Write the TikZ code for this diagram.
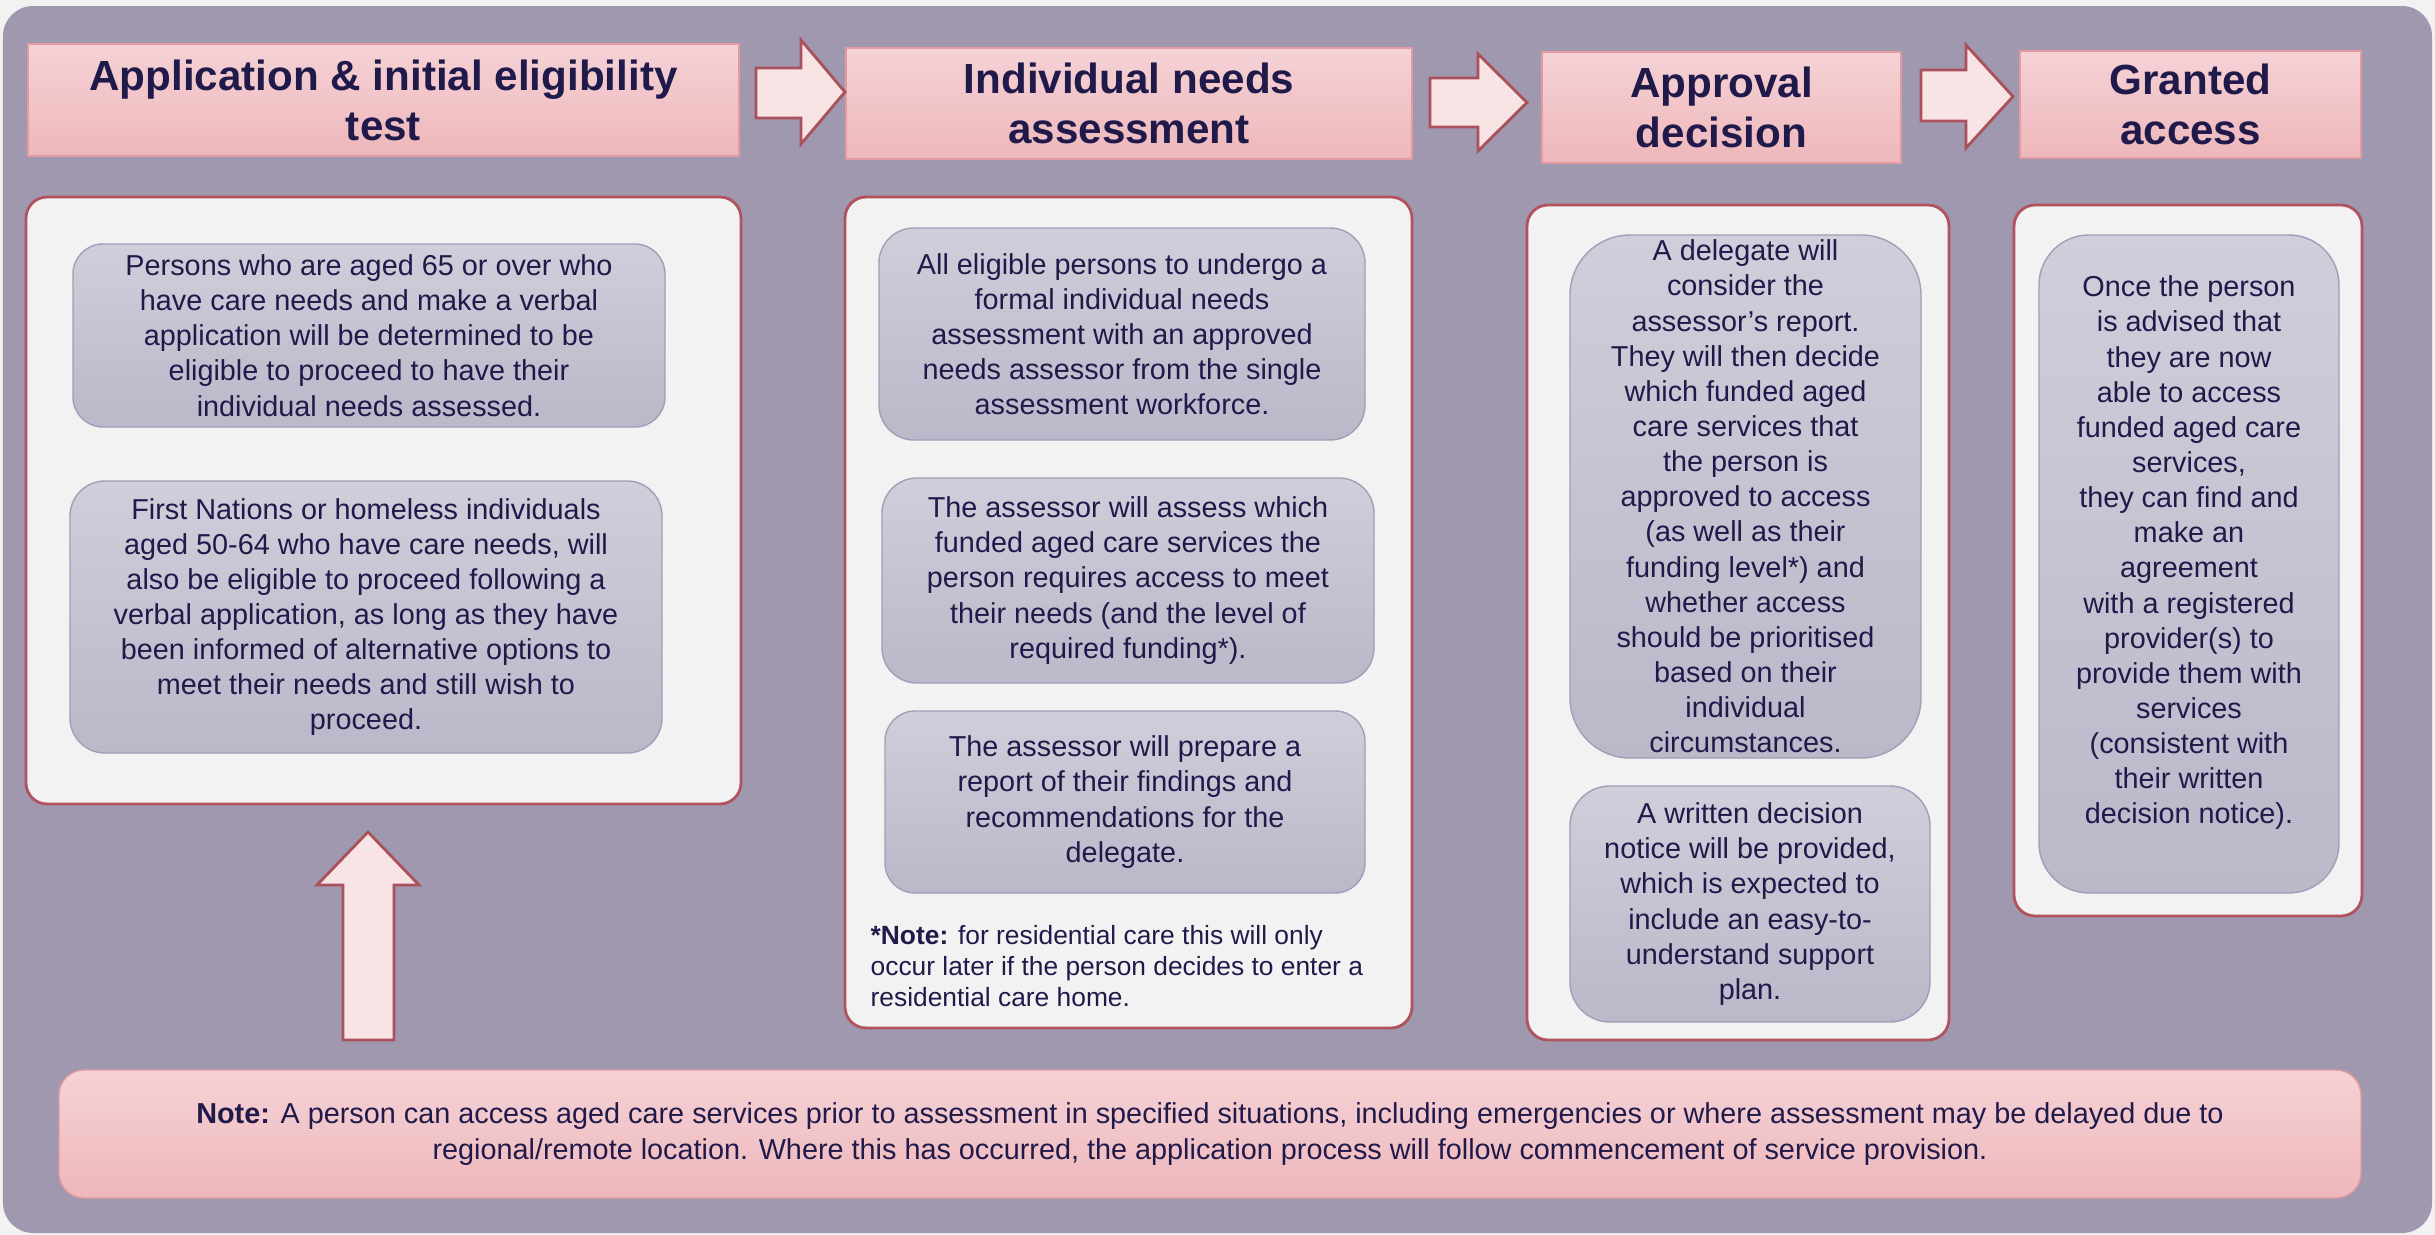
\documentclass[tikz,border=0pt]{standalone}
\usepackage{fontspec}
\setmainfont{Liberation Sans}
\usepackage{tikz}
\usetikzlibrary{arrows}

\definecolor{outside}{HTML}{F2F2F2}
\definecolor{bgpurple}{HTML}{A098AE}
\definecolor{hdrtop}{HTML}{F5D2D6}
\definecolor{hdrbot}{HTML}{EEB7BB}
\definecolor{hdrline}{HTML}{E39AA1}
\definecolor{panelfill}{HTML}{F2F2F2}
\definecolor{panelline}{HTML}{B0535E}
\definecolor{innertop}{HTML}{D1CDDA}
\definecolor{innerbot}{HTML}{BCB7C9}
\definecolor{innerline}{HTML}{A39DB7}
\definecolor{arrowfill}{HTML}{F8E3E5}
\definecolor{arrowline}{HTML}{A9525C}
\definecolor{textc}{HTML}{201A4B}

\begin{document}
\begin{tikzpicture}

	\tikzstyle header box=[draw=hdrline, top color=hdrtop, bottom color=hdrbot, inner sep=0pt, align=center, text=textc, font=\fontsize{12}{14.2}\selectfont\bfseries];
	\tikzstyle panel box=[draw=panelline, fill=panelfill, rounded corners=6pt, thick, inner sep=0pt];
	\tikzstyle inner box=[draw=innerline, top color=innertop, bottom color=innerbot, inner sep=0pt, align=center, text=textc, font=\fontsize{8.2}{10}\selectfont];
	\tikzstyle block arrows=[draw=arrowline, fill=arrowfill, thick];

	% background
	\fill[outside] (0,0) rectangle (24.35,-12.35);
	\fill[bgpurple, rounded corners=0.3cm] (0.03,-0.06) rectangle (24.32,-12.33);

	% stage headers
	\node[header box, minimum width=7.11cm, minimum height=1.12cm] (apply) at (3.835,-1.0) {Application \& initial eligibility\\test};
	\node[header box, minimum width=5.66cm, minimum height=1.11cm] (assess) at (11.29,-1.035) {Individual needs\\assessment};
	\node[header box, minimum width=3.59cm, minimum height=1.11cm] (approve) at (17.215,-1.075) {Approval\\decision};
	\node[header box, minimum width=3.41cm, minimum height=1.07cm] (granted) at (21.905,-1.045) {Granted\\access};

	\foreach \xa/\xb/\xc/\ya/\yb/\yc/\yd in {7.56/8.01/8.45/0.40/0.68/1.18/1.44,14.30/14.78/15.27/0.54/0.78/1.27/1.51,19.21/19.66/20.13/0.45/0.70/1.21/1.48}
		\draw[block arrows] (\xa,-\yb) -- (\xb,-\yb) -- (\xb,-\ya) -- (\xc,{-(\ya+\yd)/2}) -- (\xb,-\yd) -- (\xb,-\yc) -- (\xa,-\yc) -- cycle;

	% panels
	\node[panel box, minimum width=7.15cm, minimum height=6.07cm] (applypanel) at (3.835,-5.005) {};
	\node[panel box, minimum width=5.67cm, minimum height=8.31cm] (assesspanel) at (11.285,-6.125) {};
	\node[panel box, minimum width=4.22cm, minimum height=8.35cm] (approvepanel) at (17.38,-6.225) {};
	\node[panel box, minimum width=3.48cm, minimum height=7.11cm] (grantedpanel) at (21.88,-5.605) {};

	% application
	\node[inner box, rounded corners=0.3cm, minimum width=5.92cm, minimum height=1.83cm] (aged) at (3.69,-3.355)
		{Persons who are aged 65 or over who\\have care needs and make a verbal\\application will be determined to be\\eligible to proceed to have their\\individual needs assessed.};
	\node[inner box, rounded corners=0.35cm, minimum width=5.92cm, minimum height=2.72cm] (firstnations) at (3.66,-6.17)
		{First Nations or homeless individuals\\aged 50-64 who have care needs, will\\also be eligible to proceed following a\\verbal application, as long as they have\\been informed of alternative options to\\meet their needs and still wish to\\proceed.};

	% assessment
	\node[inner box, rounded corners=0.35cm, minimum width=4.86cm, minimum height=2.12cm] (undergo) at (11.22,-3.34)
		{All eligible persons to undergo a\\formal individual needs\\assessment with an approved\\needs assessor from the single\\assessment workforce.};
	\node[inner box, rounded corners=0.35cm, minimum width=4.92cm, minimum height=2.05cm] (which) at (11.28,-5.805)
		{The assessor will assess which\\funded aged care services the\\person requires access to meet\\their needs (and the level of\\required funding*).};
	\node[inner box, rounded corners=0.3cm, minimum width=4.80cm, minimum height=1.82cm] (report) at (11.25,-8.02)
		{The assessor will prepare a\\report of their findings and\\recommendations for the\\delegate.};
	\node[anchor=west, align=left, inner sep=0pt, text=textc, font=\fontsize{7.5}{8.9}\selectfont] (resnote) at (8.70,-9.66)
		{\textbf{*Note:} for residential care this will only\\occur later if the person decides to enter a\\residential care home.};

	% approval
	\node[inner box, rounded corners=0.6cm, minimum width=3.51cm, minimum height=5.23cm] (delegate) at (17.455,-4.965)
		{A delegate will\\consider the\\assessor’s report.\\They will then decide\\which funded aged\\care services that\\the person is\\approved to access\\(as well as their\\funding level*) and\\whether access\\should be prioritised\\based on their\\individual\\circumstances.};
	\node[inner box, rounded corners=0.4cm, minimum width=3.60cm, minimum height=2.36cm] (notice) at (17.5,-9.04)
		{A written decision\\notice will be provided,\\which is expected to\\include an easy-to-\\understand support\\plan.};

	% granted
	\node[inner box, rounded corners=0.5cm, minimum width=3.00cm, minimum height=6.58cm] (provider) at (21.89,-5.64)
		{Once the person\\is advised that\\they are now\\able to access\\funded aged care\\services,\\they can find and\\make an\\agreement\\with a registered\\provider(s) to\\provide them with\\services\\(consistent with\\their written\\decision notice).\\[-2pt]\mbox{}};

	% bottom note
	\draw[block arrows] (3.43,-10.40) -- (3.43,-8.85) -- (3.17,-8.85) -- (3.68,-8.32) -- (4.19,-8.85) -- (3.94,-8.85) -- (3.94,-10.40) -- cycle;
	\node[header box, rounded corners=0.25cm, minimum width=23.02cm, minimum height=1.28cm, font=\fontsize{8.2}{10}\selectfont] (prior) at (12.10,-11.34)
		{\textbf{Note:} A person can access aged care services prior to assessment in specified situations, including emergencies or where assessment may be delayed due to\\regional/remote location. Where this has occurred, the application process will follow commencement of service provision.};

\end{tikzpicture}
\end{document}
